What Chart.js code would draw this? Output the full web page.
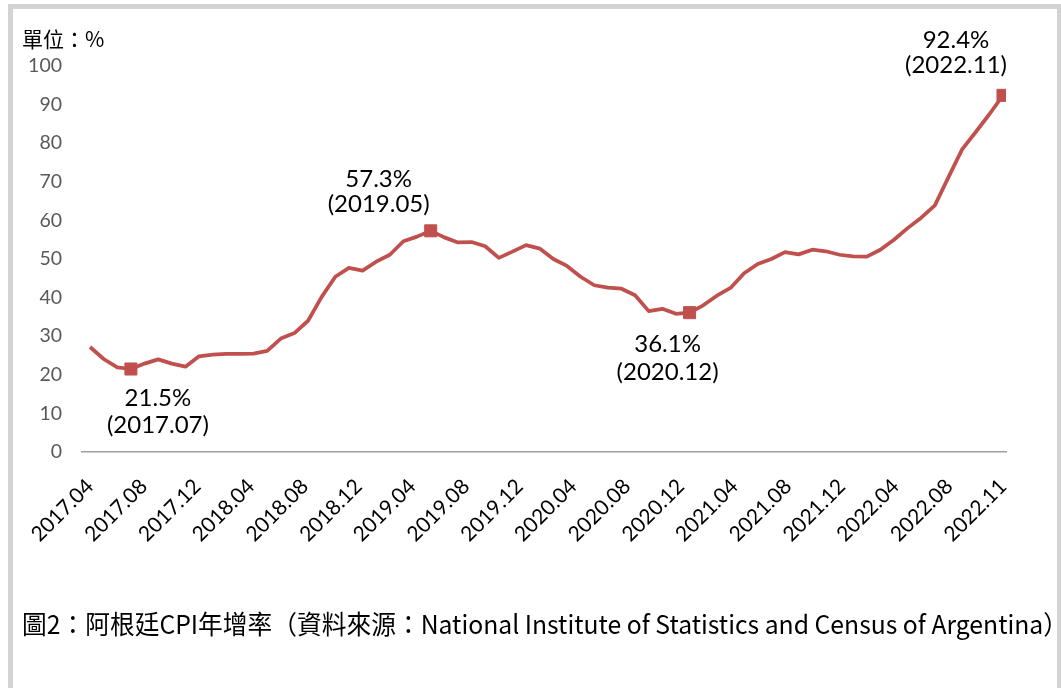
<!DOCTYPE html>
<html>
<head>
<meta charset="utf-8">
<script src="https://cdn.jsdelivr.net/npm/chart.js@4/dist/chart.umd.min.js"></script>
<style>
  html, body { margin: 0; padding: 0; background: #ffffff; }
  #wrap { position: relative; width: 1061px; height: 688px; overflow: hidden; background: #fff; }
  #frame { position: absolute; left: 8px; top: 4px; width: 1044px; height: 682px;
           border-style: solid; border-color: #d3d3d3; border-width: 5px 5px 2px 5px; }
  #cv { position: absolute; left: 0; top: 0; }
  #unit { position: absolute; left: 22px; top: 23px; font: 21px "Noto Sans CJK TC", sans-serif; color: #000; white-space: nowrap; }
  #caption { position: absolute; left: 22px; top: 604px; font: 26px "Noto Sans CJK TC", sans-serif; color: #000;
             white-space: nowrap; transform-origin: 0 0; }
</style>
</head>
<body>
<div id="wrap">
  <div id="frame"></div>
  <canvas id="cv" width="1061" height="688"></canvas>
  <div id="unit">單位：%</div>
  <div id="caption">圖2：阿根廷CPI年增率（資料來源：National Institute of Statistics and Census of Argentina）</div>
</div>
<script>
// ---- data ----
const months = [
  '2017.04','2017.05','2017.06','2017.07','2017.08','2017.09','2017.10','2017.11','2017.12',
  '2018.01','2018.02','2018.03','2018.04','2018.05','2018.06','2018.07','2018.08','2018.09','2018.10','2018.11','2018.12',
  '2019.01','2019.02','2019.03','2019.04','2019.05','2019.06','2019.07','2019.08','2019.09','2019.10','2019.11','2019.12',
  '2020.01','2020.02','2020.03','2020.04','2020.05','2020.06','2020.07','2020.08','2020.09','2020.10','2020.11','2020.12',
  '2021.01','2021.02','2021.03','2021.04','2021.05','2021.06','2021.07','2021.08','2021.09','2021.10','2021.11','2021.12',
  '2022.01','2022.02','2022.03','2022.04','2022.05','2022.06','2022.07','2022.08','2022.09','2022.10','2022.11'
];
const cpiYoY = [
  27.2, 24.1, 21.9, 21.5, 22.9, 24.0, 22.9, 22.1, 24.8,
  25.2, 25.4, 25.4, 25.5, 26.2, 29.4, 30.8, 34.0, 40.2, 45.4, 47.7, 47.0,
  49.3, 51.1, 54.6, 55.8, 57.3, 55.6, 54.3, 54.4, 53.3, 50.3, 51.9, 53.6,
  52.7, 50.0, 48.2, 45.4, 43.2, 42.6, 42.3, 40.6, 36.5, 37.1, 35.8, 36.1,
  38.0, 40.5, 42.5, 46.3, 48.7, 50.0, 51.8, 51.2, 52.4, 52.0, 51.1, 50.7,
  50.6, 52.4, 55.0, 58.0, 60.7, 63.9, 71.2, 78.4, 82.9, 87.5, 92.4
];
const tickLabels = [
  '2017.04','2017.08','2017.12','2018.04','2018.08','2018.12','2019.04','2019.08','2019.12',
  '2020.04','2020.08','2020.12','2021.04','2021.08','2021.12','2022.04','2022.08','2022.11'
];
const yTicks = [0, 10, 20, 30, 40, 50, 60, 70, 80, 90, 100];
const highlightMonths = ['2017.07', '2019.05', '2020.12', '2022.11'];

// ---- label placement (style only) ----
const labelOffsets = {
  '2017.07': { dx: 27, dy1: 29, dy2: 56 },
  '2019.05': { dx: -52, dy1: -52, dy2: -27 },
  '2020.12': { dx: -22, dy1: 32, dy2: 60 },
  '2022.11': { dx: -47, dy1: -55, dy2: -30 }
};

const highlightIdx = highlightMonths.map(m => months.indexOf(m));
const points = cpiYoY.map((v, i) => ({ x: i, y: v }));
const lastIdx = months.length - 1;

const PLOT_LEFT = 82, PLOT_RIGHT = 1006, PLOT_TOP = 66, PLOT_BOTTOM = 452;

const labelPlugin = {
  id: 'peakLabels',
  afterDatasetsDraw(chart) {
    const meta = chart.getDatasetMeta(0);
    const ctx = chart.ctx;
    ctx.save();
    ctx.font = '24px Lato, "Noto Sans", sans-serif';
    ctx.fillStyle = '#000000';
    ctx.textAlign = 'center';
    ctx.textBaseline = 'middle';
    highlightIdx.forEach(i => {
      const el = meta.data[i];
      const m = months[i];
      const o = labelOffsets[m];
      ctx.fillText(cpiYoY[i].toFixed(1) + '%', el.x + o.dx, el.y + o.dy1);
      ctx.fillText('(' + m + ')', el.x + o.dx, el.y + o.dy2);
    });
    ctx.restore();
  }
};

new Chart(document.getElementById('cv'), {
  type: 'line',
  data: {
    datasets: [{
      data: points,
      borderColor: '#C0504D',
      backgroundColor: '#C0504D',
      borderWidth: 3.75,
      tension: 0,
      borderJoinStyle: 'round',
      pointStyle: 'rect',
      pointRadius: ctx => highlightIdx.includes(ctx.dataIndex) ? 8.5 : 0,
      pointHoverRadius: ctx => highlightIdx.includes(ctx.dataIndex) ? 8.5 : 0,
      pointBorderWidth: 1,
      pointBorderColor: '#C0504D',
      pointBackgroundColor: '#C0504D'
    }]
  },
  options: {
    responsive: false,
    animation: false,
    events: [],
    layout: { padding: { top: PLOT_TOP, right: 1061 - PLOT_RIGHT, bottom: 0, left: 0 } },
    plugins: { legend: { display: false }, tooltip: { enabled: false }, title: { display: false } },
    scales: {
      x: {
        type: 'linear',
        min: -0.59,
        max: lastIdx + 0.22,
        grid: { display: false, drawTicks: false },
        border: { display: true, color: '#a0a0a0', width: 1.5 },
        afterBuildTicks: axis => {
          axis.ticks = tickLabels.map((_, i) => ({ value: i * lastIdx / (tickLabels.length - 1) }));
        },
        afterFit: axis => { axis.height = 688 - PLOT_BOTTOM; },
        ticks: {
          autoSkip: false,
          minRotation: 45,
          maxRotation: 45,
          padding: 22,
          color: '#000000',
          font: { family: 'Lato, "Noto Sans", sans-serif', size: 21 },
          callback: (value, index) => tickLabels[index]
        }
      },
      y: {
        min: 0,
        max: 100,
        grid: { display: false, drawTicks: false },
        border: { display: false },
        afterBuildTicks: axis => { axis.ticks = yTicks.map(v => ({ value: v })); },
        afterFit: axis => { axis.width = PLOT_LEFT; },
        ticks: {
          padding: 20,
          color: '#595959',
          font: { family: 'Lato, "Noto Sans", sans-serif', size: 19.5 }
        }
      }
    }
  },
  plugins: [labelPlugin]
});

// fit caption width to the reference span
const cap = document.getElementById('caption');
const w = cap.getBoundingClientRect().width;
cap.style.transform = 'scaleX(' + (1046 / w) + ')';
</script>
</body>
</html>
